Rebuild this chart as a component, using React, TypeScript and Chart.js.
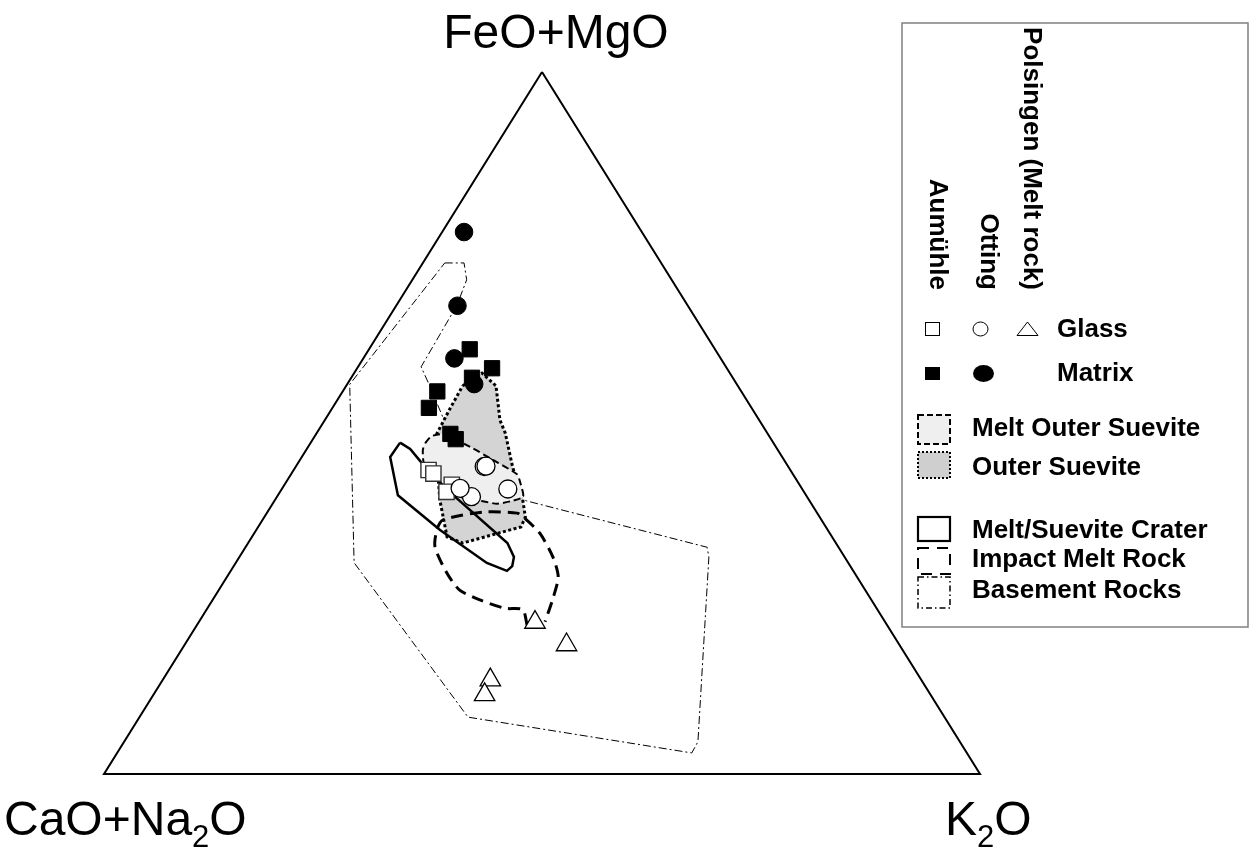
import React, { useEffect, useRef } from "react";
import { Chart, registerables } from "chart.js";

Chart.register(...registerables);

// Ternary compositions: [FeO+MgO, CaO+Na2O, K2O] (percent)
type Tern = [number, number, number];

const apexTop = "FeO+MgO";
const apexLeft: [string, boolean][] = [["CaO+Na", false], ["2", true], ["O", false]];
const apexRight: [string, boolean][] = [["K", false], ["2", true], ["O", false]];

const siteLabels = ["Polsingen (Melt rock)", "Otting", "Aumühle"];
const typeLabels = ["Glass", "Matrix"];
const fieldLabels = ["Melt Outer Suevite", "Outer Suevite"];
const refLabels = ["Melt/Suevite Crater", "Impact Melt Rock", "Basement Rocks"];

const frame: Tern[] = [[100, 0, 0], [0, 100, 0], [0, 0, 100], [100, 0, 0]];

// Samples
const aumuhleGlass: Tern[] = [
  [43.3, 41.3, 15.4], [42.8, 41.0, 16.2], [41.2, 39.7, 19.1], [40.2, 40.8, 19.0],
];
const aumuhleMatrix: Tern[] = [
  [60.5, 28.0, 11.5], [57.8, 26.8, 15.4], [56.5, 29.8, 13.8], [54.5, 34.7, 10.8],
  [52.1, 36.8, 11.0], [48.4, 36.2, 15.3], [47.7, 36.0, 16.3],
];
const ottingGlass: Tern[] = [
  [43.8, 34.7, 21.5], [43.9, 34.5, 21.7], [40.6, 33.6, 25.8], [39.5, 38.3, 22.2], [40.7, 39.0, 20.3],
];
const ottingMatrix: Tern[] = [
  [77.2, 20.3, 2.5], [66.7, 26.3, 7.0], [59.2, 30.4, 10.4], [55.6, 30.0, 14.5],
];
const polsingenGlass: Tern[] = [
  [21.6, 40.0, 38.4], [18.4, 38.0, 43.6], [13.4, 49.2, 37.4], [11.3, 50.9, 37.8],
];

// Fields
const basementRocks: Tern[] = [
  [72.8, 24.7, 2.5], [72.8, 22.5, 4.7], [70.4, 23.4, 6.2], [66.8, 26.3, 6.9],
  [58.0, 34.8, 7.2], [55.1, 35.2, 9.7], [49.4, 36.1, 14.4], [46.2, 36.3, 17.6],
  [42.2, 36.9, 20.9], [40.7, 34.7, 24.6], [38.9, 32.3, 28.8], [32.3, 15.0, 52.7],
  [30.9, 15.5, 53.6], [4.6, 29.9, 65.5], [3.0, 31.4, 65.6], [8.1, 54.4, 37.5],
  [30.1, 56.4, 13.5], [55.5, 44.2, 0.3], [72.8, 24.7, 2.5],
];
const outerSuevite: Tern[] = [
  [55.3, 31.4, 13.3], [57.1, 28.3, 14.6], [55.3, 27.6, 17.1], [50.4, 29.6, 20.0],
  [48.6, 29.9, 21.5], [43.7, 31.5, 24.8], [39.5, 32.5, 28.0], [36.6, 33.6, 29.8],
  [35.2, 34.8, 30.0], [32.9, 42.6, 24.5], [33.8, 44.0, 22.3], [39.0, 42.1, 18.8],
  [48.0, 38.2, 13.8], [51.9, 34.7, 13.5], [55.3, 31.4, 13.3],
];
const meltOuterSuevite: Tern[] = [
  [47.2, 39.8, 13.1], [48.1, 38.6, 13.3], [48.4, 37.2, 14.4], [46.6, 34.9, 18.5],
  [44.7, 33.2, 22.0], [42.7, 31.5, 25.8], [41.6, 31.7, 26.7], [39.5, 32.4, 28.1],
  [38.9, 34.0, 27.1], [38.5, 35.9, 25.6], [39.0, 37.8, 23.2], [39.7, 40.1, 20.2],
  [42.2, 41.1, 16.7], [44.4, 41.3, 14.3], [46.2, 40.5, 13.3], [47.2, 39.8, 13.1],
];
const meltSueviteCrater: Tern[] = [
  [47.2, 42.6, 10.2], [46.3, 41.9, 11.8], [44.3, 41.6, 14.2], [40.5, 40.6, 18.9],
  [32.9, 37.5, 29.6], [30.9, 37.7, 31.3], [29.6, 38.6, 31.8], [28.9, 39.5, 31.5],
  [30.1, 41.3, 28.7], [34.8, 44.3, 21.0], [39.7, 46.6, 13.7], [45.2, 44.8, 10.1],
  [47.2, 42.6, 10.2],
];
const impactMeltRock: Tern[] = [
  [21.2, 41.1, 37.7], [23.4, 40.5, 36.1], [23.6, 42.4, 34.0], [24.8, 44.7, 30.5],
  [26.2, 46.3, 27.5], [28.6, 46.5, 24.8], [32.3, 46.0, 21.6], [34.8, 44.6, 20.6],
  [36.2, 43.2, 20.6], [37.3, 38.1, 24.6], [37.2, 34.3, 28.6], [36.5, 33.8, 29.7],
  [34.3, 33.1, 32.6], [30.9, 33.3, 35.8], [28.1, 34.1, 37.8], [25.2, 36.1, 38.7],
  [21.7, 38.8, 39.5],
];

const toXY = ([a, b, c]: Tern) => {
  const s = a + b + c;
  return { x: (c + a / 2) / s, y: a / s };
};

const FONT = '"Liberation Sans", Arial, Helvetica, sans-serif';

function drawChem(ctx: CanvasRenderingContext2D, parts: [string, boolean][], x: number, y: number) {
  let cx = x;
  for (const [t, sub] of parts) {
    ctx.font = sub ? `31px ${FONT}` : `48px ${FONT}`;
    ctx.fillText(t, cx, sub ? y + 12 : y);
    cx += ctx.measureText(t).width;
  }
}

const labelsPlugin = {
  id: "ternaryLabels",
  afterDraw(chart: any) {
    const ctx: CanvasRenderingContext2D = chart.ctx;
    const xs = chart.scales.x;
    const ys = chart.scales.y;
    const apexX = xs.getPixelForValue(0.5);
    const topY = ys.getPixelForValue(1);
    const baseY = ys.getPixelForValue(0);
    const leftX = xs.getPixelForValue(0);
    const rightX = xs.getPixelForValue(1);
    ctx.save();
    ctx.fillStyle = "#000";
    ctx.textBaseline = "alphabetic";
    ctx.textAlign = "center";
    ctx.font = `48px ${FONT}`;
    ctx.fillText(apexTop, apexX + 14, topY - 24);
    ctx.textAlign = "left";
    drawChem(ctx, apexLeft, leftX - 100, baseY + 61);
    drawChem(ctx, apexRight, rightX - 35, baseY + 61);

    // Legend box
    const L = 902, T = 23, W = 346, H = 604;
    ctx.fillStyle = "#fff";
    ctx.fillRect(L, T, W, H);
    ctx.strokeStyle = "#808080";
    ctx.lineWidth = 1.5;
    ctx.strokeRect(L, T, W, H);

    ctx.fillStyle = "#000";
    ctx.font = `bold 26px ${FONT}`;
    // rotated site names
    const rot: [string, number][] = [[siteLabels[0], 1024], [siteLabels[1], 981], [siteLabels[2], 930]];
    for (const [t, bx] of rot) {
      ctx.save();
      ctx.translate(bx, 290);
      ctx.rotate(Math.PI / 2);
      ctx.textAlign = "right";
      ctx.fillText(t, 0, 0);
      ctx.restore();
    }
    ctx.textAlign = "left";
    ctx.fillText(typeLabels[0], 1057, 337);
    ctx.fillText(typeLabels[1], 1057, 381);
    ctx.fillText(fieldLabels[0], 972, 436);
    ctx.fillText(fieldLabels[1], 972, 475);
    ctx.fillText(refLabels[0], 972, 538);
    ctx.fillText(refLabels[1], 972, 567);
    ctx.fillText(refLabels[2], 972, 598);

    // symbols
    ctx.strokeStyle = "#000";
    ctx.lineWidth = 1;
    ctx.setLineDash([]);
    ctx.strokeRect(925.5, 322.5, 14, 13);
    ctx.beginPath();
    ctx.ellipse(980.5, 329, 7.5, 7, 0, 0, Math.PI * 2);
    ctx.stroke();
    ctx.beginPath();
    ctx.moveTo(1017, 335.5);
    ctx.lineTo(1027.5, 322);
    ctx.lineTo(1038, 335.5);
    ctx.closePath();
    ctx.stroke();
    ctx.fillRect(925, 367, 15, 13);
    ctx.beginPath();
    ctx.ellipse(983.5, 373.5, 10.5, 8.5, 0, 0, Math.PI * 2);
    ctx.fill();

    // field boxes
    ctx.fillStyle = "#efefef";
    ctx.fillRect(918, 415, 32, 29);
    ctx.lineWidth = 2;
    ctx.setLineDash([6, 3]);
    ctx.strokeRect(918, 415, 32, 29);
    ctx.fillStyle = "#cfcfcf";
    ctx.fillRect(918, 452, 32, 26);
    ctx.lineWidth = 2;
    ctx.setLineDash([2, 2]);
    ctx.strokeRect(918, 452, 32, 26);
    ctx.setLineDash([]);
    ctx.lineWidth = 2.2;
    ctx.strokeRect(918, 517, 32, 24);
    ctx.lineWidth = 2;
    ctx.setLineDash([11, 8]);
    ctx.strokeRect(918, 548, 32, 26);
    ctx.lineWidth = 1.5;
    ctx.setLineDash([6, 3, 1.5, 3]);
    ctx.strokeRect(918, 577, 32, 31);
    ctx.restore();
  },
};

const lineDs = (label: string, pts: Tern[], order: number, extra: any) => ({
  label,
  data: pts.map(toXY),
  showLine: true,
  pointRadius: 0,
  pointHoverRadius: 0,
  tension: 0,
  clip: false,
  fill: false,
  borderColor: "#000",
  order,
  ...extra,
});

const pointDs = (label: string, pts: Tern[], order: number, extra: any) => ({
  label,
  data: pts.map(toXY),
  showLine: false,
  clip: false,
  borderColor: "#000",
  order,
  ...extra,
});

export default function App() {
  const ref = useRef<HTMLCanvasElement | null>(null);
  useEffect(() => {
    if (!ref.current) return;
    const chart = new Chart(ref.current, {
      type: "scatter",
      data: {
        datasets: [
          lineDs("Basement Rocks", basementRocks, 20, { borderWidth: 1, borderDash: [8, 3, 2, 3] }),
          lineDs("Outer Suevite", outerSuevite, 19, {
            borderWidth: 3, borderDash: [3, 2.5], fill: "shape", backgroundColor: "#d4d4d4",
          }),
          lineDs("Melt Outer Suevite", meltOuterSuevite, 18, {
            borderWidth: 2, borderDash: [7, 4], fill: "shape", backgroundColor: "#efefef", tension: 0.2,
          }),
          lineDs("Melt/Suevite Crater", meltSueviteCrater, 17, { borderWidth: 2.5 }),
          lineDs("Impact Melt Rock", impactMeltRock, 16, { borderWidth: 3, borderDash: [12, 7], tension: 0.25 }),
          lineDs("frame", frame, 15, { borderWidth: 2 }),
          pointDs("Aumühle Glass", aumuhleGlass, 5, {
            pointStyle: "rect", pointRadius: 10.8, backgroundColor: "#fff", borderColor: "#333", borderWidth: 1.4,
          }),
          pointDs("Aumühle Matrix", aumuhleMatrix, 4, {
            pointStyle: "rect", pointRadius: 10.8, backgroundColor: "#000", borderWidth: 1,
          }),
          pointDs("Otting Glass", ottingGlass, 3, {
            pointStyle: "circle", pointRadius: 9, backgroundColor: "#fff", borderWidth: 1.3,
          }),
          pointDs("Otting Matrix", ottingMatrix, 2, {
            pointStyle: "circle", pointRadius: 8.8, backgroundColor: "#000", borderWidth: 1,
          }),
          pointDs("Polsingen Glass", polsingenGlass, 1, {
            pointStyle: "triangle", pointRadius: 11.8, backgroundColor: "#fff", borderWidth: 1.3,
          }),
        ] as any,
      },
      options: {
        animation: false,
        responsive: false,
        devicePixelRatio: 1,
        events: [],
        layout: { padding: { left: 104, right: 277, top: 72, bottom: 84 } },
        scales: {
          x: { type: "linear", min: 0, max: 1, display: false },
          y: { type: "linear", min: 0, max: 1, display: false },
        },
        plugins: {
          legend: { display: false },
          tooltip: { enabled: false },
        },
      } as any,
      plugins: [labelsPlugin],
    });
    return () => chart.destroy();
  }, []);
  return (
    <div style={{ position: "absolute", left: 0, top: 0, width: 1257, height: 858, background: "#fff" }}>
      <canvas ref={ref} width={1257} height={858} style={{ display: "block" }} />
    </div>
  );
}
